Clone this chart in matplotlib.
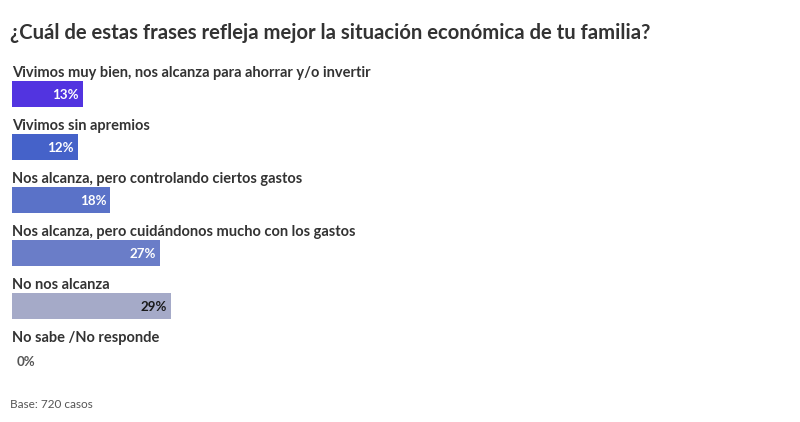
import matplotlib
matplotlib.use("Agg")
import matplotlib.pyplot as plt

title = "¿Cuál de estas frases refleja mejor la situación económica de tu familia?"
categories = [
    "Vivimos muy bien, nos alcanza para ahorrar y/o invertir",
    "Vivimos sin apremios",
    "Nos alcanza, pero controlando ciertos gastos",
    "Nos alcanza, pero cuidándonos mucho con los gastos",
    "No nos alcanza",
    "No sabe /No responde",
]
values = [13, 12, 18, 27, 29, 0]
value_labels = ["13%", "12%", "18%", "27%", "29%", "0%"]
colors = ["#5234e0", "#4562c9", "#5a72c8", "#6a7dc8", "#a5aac8", "#cccccc"]
label_colors = ["white", "white", "white", "white", "#1a1a1a", "#555555"]
footnote = "Base: 720 casos"

plt.rcParams['font.family'] = ['Lato', 'DejaVu Sans']

W, H = 800, 422
fig = plt.figure(figsize=(W / 100, H / 100), dpi=100)
fig.patch.set_facecolor("white")

# axes: left at 12px, 1% = 5.47px
ax_left = 12 / W
ax_w = 547 / W
top_px, bot_px = 41, 385.5
ax = fig.add_axes([ax_left, (H - bot_px) / H, ax_w, (bot_px - top_px) / H])
ax.set_xlim(0, 100)
ax.set_ylim(5.5, -1)
ax.axis("off")

ypos = list(range(len(categories)))
ax.barh(ypos, values, height=0.49, color=colors, left=0)

for i, (cat, v, lab, lc) in enumerate(zip(categories, values, value_labels, label_colors)):
    ax.text(0, i - 0.40, cat, ha="left", va="center", fontsize=10.5,
            fontweight="bold", color="#333333")
    if v > 0:
        ax.text(v - 0.75, i + 0.02, lab, ha="right", va="center", fontsize=9.6,
                fontweight="bold", color=lc)
    else:
        ax.text(0.9, i + 0.05, lab, ha="left", va="center", fontsize=9.6,
                fontweight="bold", color=lc)

fig.text(10 / W, 1 - 33 / H, title, ha="left", va="center", fontsize=14.6,
         fontweight="bold", color="#333333")
fig.text(10 / W, 1 - 405 / H, footnote, ha="left", va="center", fontsize=8.5,
         color="#555555")

fig.savefig("out.png", dpi=100, facecolor="white")
